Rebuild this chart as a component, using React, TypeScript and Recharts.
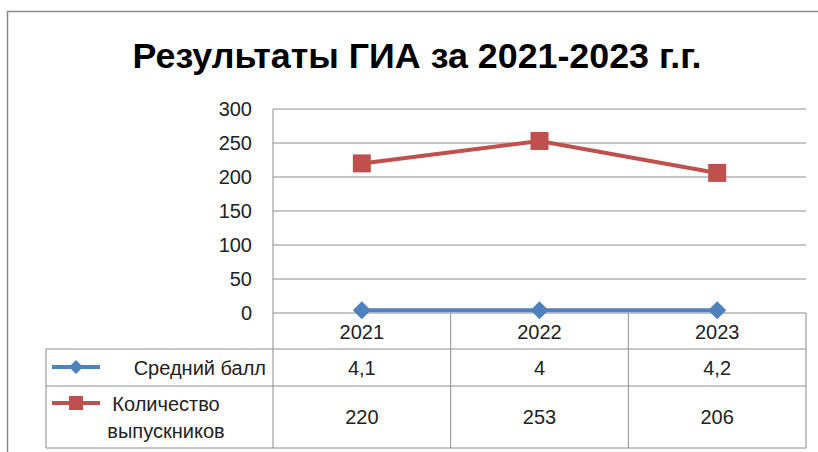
import React from "react";
import { LineChart, Line, XAxis, YAxis, CartesianGrid } from "recharts";

const years = ["2021", "2022", "2023"];
const avgScore = [4.1, 4, 4.2];
const graduates = [220, 253, 206];
const yTicks = [0, 50, 100, 150, 200, 250, 300];
const seriesNames = ["Средний балл", "Количество", "выпускников"];
const titleText = "Результаты ГИА за 2021-2023 г.г.";

const W = 818;
const H = 452;
const PLOT_LEFT = 273;
const PLOT_RIGHT = 806;
const PLOT_TOP = 109;
const PLOT_BOTTOM = 313;
const ROW1_TOP = 349;
const ROW2_TOP = 386;
const TABLE_BOTTOM = 448;
const TABLE_LEFT = 46;
const BAND = (PLOT_RIGHT - PLOT_LEFT) / years.length;
const Y_AXIS_W = 60;

const BLUE = "#4F81BD";
const RED = "#C0504D";
const GRID = "#8c8c8c";
const TEXT = "#222";
const FONT = "'Liberation Sans', Arial, sans-serif";

const data = years.map((y, i) => ({ year: y, avg: avgScore[i], grads: graduates[i] }));

const fmt = (v: number) => String(v).replace(".", ",");

const Diamond = ({ cx, cy, r }: { cx: number; cy: number; r: number }) => (
  <path d={`M${cx},${cy - r} L${cx + r},${cy} L${cx},${cy + r} L${cx - r},${cy} Z`} fill={BLUE} />
);

const Square = ({ cx, cy, s }: { cx: number; cy: number; s: number }) => (
  <rect x={cx - s / 2} y={cy - s / 2} width={s} height={s} fill={RED} />
);

const renderDiamond = (p: any) => <Diamond key={`d-${p.index}`} cx={p.cx} cy={p.cy} r={9} />;
const renderSquare = (p: any) => <Square key={`s-${p.index}`} cx={p.cx} cy={p.cy} s={18} />;

const TableTick = (props: any) => {
  const { x, payload } = props;
  const i: number = payload.index ?? props.index ?? 0;
  const right = x + BAND / 2;
  const tStyle = { fontFamily: FONT, fontSize: 20, fill: TEXT } as const;
  return (
    <g>
      <line x1={right} y1={PLOT_BOTTOM} x2={right} y2={TABLE_BOTTOM} stroke={GRID} strokeWidth={1} />
      {i === 0 && (
        <g>
          <line x1={x - BAND / 2} y1={PLOT_BOTTOM} x2={x - BAND / 2} y2={TABLE_BOTTOM} stroke={GRID} strokeWidth={1} />
          <line x1={TABLE_LEFT} y1={ROW1_TOP} x2={PLOT_RIGHT} y2={ROW1_TOP} stroke={GRID} strokeWidth={1} />
          <line x1={TABLE_LEFT} y1={ROW2_TOP} x2={PLOT_RIGHT} y2={ROW2_TOP} stroke={GRID} strokeWidth={1} />
          <line x1={TABLE_LEFT} y1={TABLE_BOTTOM} x2={PLOT_RIGHT} y2={TABLE_BOTTOM} stroke={GRID} strokeWidth={1} />
          <line x1={TABLE_LEFT} y1={ROW1_TOP} x2={TABLE_LEFT} y2={TABLE_BOTTOM} stroke={GRID} strokeWidth={1} />
          <line x1={52} y1={367} x2={100} y2={367} stroke={BLUE} strokeWidth={4} />
          <Diamond cx={76} cy={367} r={7} />
          <text x={266} y={368} dy="0.35em" textAnchor="end" style={tStyle}>{seriesNames[0]}</text>
          <line x1={52} y1={403} x2={100} y2={403} stroke={RED} strokeWidth={4} />
          <Square cx={76} cy={403} s={14} />
          <text x={166} y={404} dy="0.35em" textAnchor="middle" style={tStyle}>{seriesNames[1]}</text>
          <text x={166} y={431} dy="0.35em" textAnchor="middle" style={tStyle}>{seriesNames[2]}</text>
        </g>
      )}
      <text x={x} y={332} dy="0.35em" textAnchor="middle" style={tStyle}>{payload.value}</text>
      <text x={x} y={368} dy="0.35em" textAnchor="middle" style={tStyle}>{fmt(avgScore[i])}</text>
      <text x={x} y={417} dy="0.35em" textAnchor="middle" style={tStyle}>{graduates[i]}</text>
    </g>
  );
};

export default function App() {
  return (
    <div style={{ position: "absolute", left: 0, top: 0, width: W, height: H, background: "#fff" }}>
      <LineChart
        width={W}
        height={H}
        data={data}
        margin={{ top: PLOT_TOP, right: W - PLOT_RIGHT, left: PLOT_LEFT - Y_AXIS_W, bottom: H - TABLE_BOTTOM }}
      >
        <CartesianGrid vertical={false} stroke={GRID} strokeWidth={1} />
        <XAxis
          dataKey="year"
          scale="band"
          axisLine={false}
          tickLine={false}
          tickSize={0}
          height={TABLE_BOTTOM - PLOT_BOTTOM}
          tick={<TableTick />}
          interval={0}
        />
        <YAxis
          width={Y_AXIS_W}
          domain={[0, 300]}
          ticks={yTicks}
          interval={0}
          axisLine={{ stroke: GRID, strokeWidth: 1 }}
          tickLine={false}
          tickSize={0}
          tickMargin={21}
          tick={{ fontFamily: FONT, fontSize: 20, fill: TEXT }}
        />
        <Line
          dataKey="avg"
          stroke={BLUE}
          strokeWidth={4}
          dot={renderDiamond}
          isAnimationActive={false}
        />
        <Line
          dataKey="grads"
          stroke={RED}
          strokeWidth={4}
          dot={renderSquare}
          isAnimationActive={false}
        />
      </LineChart>
      <svg
        width={W}
        height={H}
        style={{ position: "absolute", left: 0, top: 0, pointerEvents: "none" }}
      >
        <path d={`M7.5,${H} L7.5,11.5 L${W},11.5`} fill="none" stroke="#8a8a8a" strokeWidth={1.5} />
        <text
          x={417}
          y={68}
          textAnchor="middle"
          textLength={569}
          lengthAdjust="spacingAndGlyphs"
          style={{ fontFamily: "'Liberation Sans Narrow', 'Liberation Sans', Arial, sans-serif", fontWeight: 700, fontSize: 35, fill: "#000" }}
        >
          {titleText}
        </text>
      </svg>
    </div>
  );
}
